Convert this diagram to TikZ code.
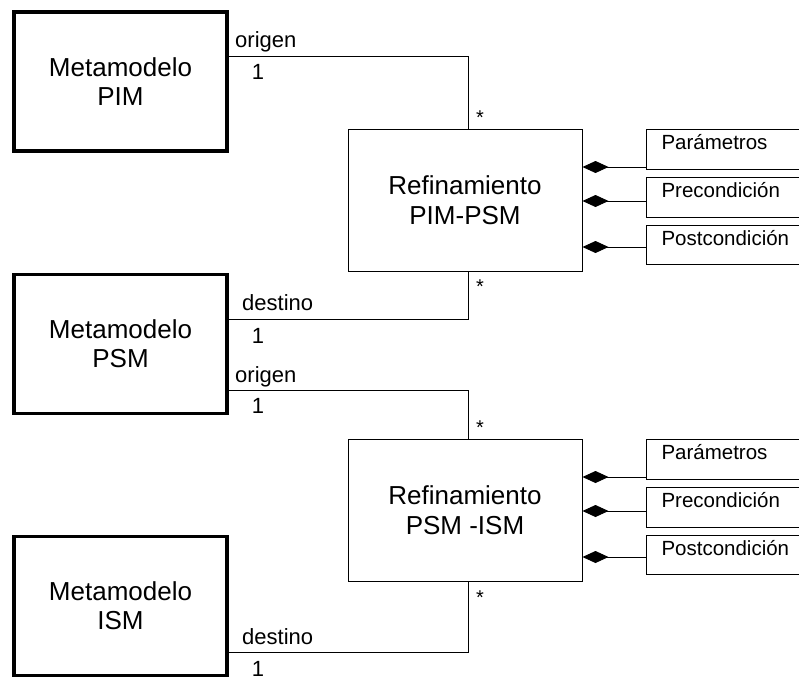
\documentclass[tikz,border=0pt]{standalone}
\usepackage{fontspec}
\setmainfont{Liberation Sans}
\usetikzlibrary{arrows.meta}
\begin{document}
\begin{tikzpicture}[x=1pt,y=-1pt,
  meta/.style={draw,line width=3.5pt,minimum width=213pt,minimum height=139pt,
    align=center,inner sep=0pt,font=\fontsize{26}{29}\selectfont},
  refbox/.style={draw,line width=1pt,minimum width=234pt,minimum height=142pt,
    align=center,inner sep=0pt,font=\fontsize{26}{30}\selectfont},
  attr/.style={draw,line width=1pt,anchor=north west,text width=140pt,align=left,
    inner xsep=15pt,inner ysep=4pt,text height=16pt,font=\fontsize{20.5}{22}\selectfont},
  lbl/.style={inner sep=0pt,anchor=base west,font=\fontsize{22}{24}\selectfont},
  mult/.style={inner sep=0pt,anchor=base,font=\fontsize{22}{24}\selectfont},
  star/.style={inner sep=0pt,anchor=base,font=\fontsize{20}{22}\selectfont},
  assoc/.style={line width=1pt},
  comp/.style={line width=1pt,-{Diamond[length=26pt,width=12pt]}}
]
% metamodel boxes
\node[meta] (pim) at (120.5,81.5) {Metamodelo\\PIM};
\node[meta] (psm) at (120.5,344) {Metamodelo\\PSM};
\node[meta] (ism) at (120.5,606) {Metamodelo\\ISM};
% refinement boxes
\node[refbox] (ref1) at (465,200) {Refinamiento\\PIM-PSM};
\node[refbox] (ref2) at (465,510) {Refinamiento\\PSM -ISM};
% attribute boxes
\node[attr,text depth=16pt] (pa1) at (646,129) {Parámetros};
\node[attr,text depth=16pt] (pr1) at (646,177) {Precondición};
\node[attr,text depth=15pt] (po1) at (646,225) {Postcondición};
\node[attr,text depth=16pt] (pa2) at (646,439) {Parámetros};
\node[attr,text depth=16pt] (pr2) at (646,487) {Precondición};
\node[attr,text depth=15pt] (po2) at (646,535) {Postcondición};
% composition connectors
\coordinate (c1) at ([yshift=3pt]pa1.south west);
\coordinate (c2) at ([yshift=17pt]pr1.south west);
\coordinate (c3) at ([yshift=18pt]po1.south west);
\coordinate (c4) at ([yshift=3pt]pa2.south west);
\coordinate (c5) at ([yshift=17pt]pr2.south west);
\coordinate (c6) at ([yshift=18pt]po2.south west);
\draw[comp] (c1) -- (ref1.east |- c1);
\draw[comp] (c2) -- (ref1.east |- c2);
\draw[comp] (c3) -- (ref1.east |- c3);
\draw[comp] (c4) -- (ref2.east |- c4);
\draw[comp] (c5) -- (ref2.east |- c5);
\draw[comp] (c6) -- (ref2.east |- c6);
% associations
\draw[assoc] ([yshift=-46pt]pim.north east) -| ([xshift=3pt]ref1.north);
\draw[assoc] ([yshift=-47pt]psm.north east) -| ([xshift=3pt]ref1.south);
\draw[assoc] ([yshift=-118pt]psm.north east) -| ([xshift=3pt]ref2.north);
\draw[assoc] ([yshift=-118pt]ism.north east) -| ([xshift=3pt]ref2.south);
% role labels
\node[lbl] (o1) at (235,47) {origen};
\node[mult] (m1) at (258,79) {1};
\node[lbl] (d1) at (242,310) {destino};
\node[mult] (m2) at (258,343) {1};
\node[lbl] (o2) at (235,382) {origen};
\node[mult] (m3) at (258,413) {1};
\node[lbl] (d2) at (242,644) {destino};
\node[mult] (m4) at (258,676) {1};
\node[star] (s1) at (480,124.5) {*};
\node[star] (s2) at (480,293.5) {*};
\node[star] (s3) at (480,434.5) {*};
\node[star] (s4) at (480,604) {*};
\pgfresetboundingbox
\useasboundingbox (0,0) rectangle (799,680);
\end{tikzpicture}
\end{document}
